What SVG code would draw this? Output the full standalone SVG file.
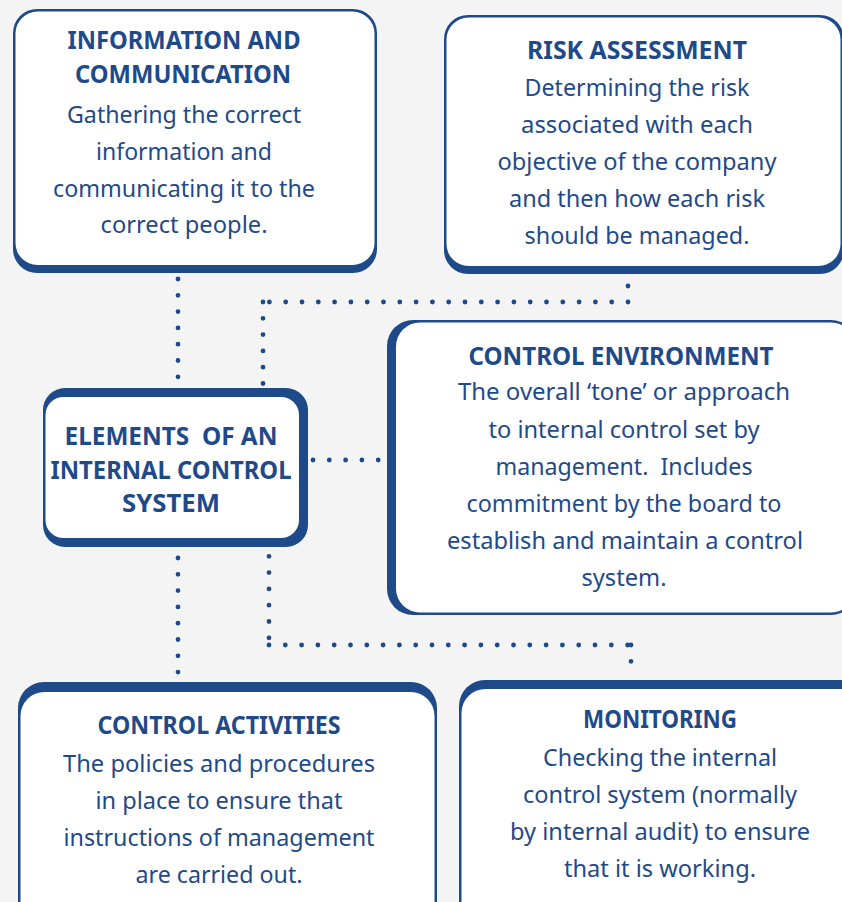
<svg xmlns="http://www.w3.org/2000/svg" width="842" height="902" viewBox="0 0 842 902">
<style>
.bg{fill:#f4f4f4}
.edge{fill:#1f4a8a}
.face{fill:#ffffff}
.t{font-family:"Noto Sans","Open Sans",sans-serif;fill:#1f4a8a;text-anchor:middle}
.h{font-weight:bold;font-size:25px}
.b{font-size:23px}
.dots{fill:none;stroke:#1f4a8a;stroke-width:4.8;stroke-linecap:round;stroke-dasharray:0 16.3}
</style>
<rect class="bg" x="0" y="0" width="842" height="902"/>

<g id="connectors">
  <line class="dots" x1="178" y1="279" x2="178" y2="380"/>
  <line class="dots" x1="628" y1="286" x2="628" y2="302"/>
  <line class="dots" x1="628" y1="302" x2="263" y2="302"/>
  <line class="dots" x1="263" y1="302" x2="263" y2="390"/>
  <line class="dots" x1="313" y1="460" x2="380" y2="460"/>
  <line class="dots" x1="178" y1="558" x2="178" y2="676"/>
  <line class="dots" x1="269" y1="540" x2="269" y2="645"/>
  <line class="dots" x1="269" y1="645" x2="631" y2="645"/>
  <line class="dots" x1="631" y1="645" x2="631" y2="677"/>
</g>

<g id="info">
  <rect class="edge" x="13" y="9" width="364" height="264" rx="24"/>
  <rect class="face" x="15.5" y="11.5" width="359" height="253.5" rx="22"/>
  <text class="t h" x="184" y="49" textLength="233" lengthAdjust="spacingAndGlyphs">INFORMATION AND</text>
  <text class="t h" x="183" y="83" textLength="216" lengthAdjust="spacingAndGlyphs">COMMUNICATION</text>
  <text class="t b" x="184" y="123" textLength="234" lengthAdjust="spacingAndGlyphs">Gathering the correct</text>
  <text class="t b" x="184" y="160" textLength="176" lengthAdjust="spacingAndGlyphs">information and</text>
  <text class="t b" x="184" y="197" textLength="262" lengthAdjust="spacingAndGlyphs">communicating it to the</text>
  <text class="t b" x="184" y="233" textLength="167" lengthAdjust="spacingAndGlyphs">correct people.</text>
</g>

<g id="risk">
  <rect class="edge" x="444" y="15" width="400" height="259" rx="24"/>
  <rect class="face" x="446.5" y="17.5" width="394" height="248.5" rx="22"/>
  <text class="t h" x="637" y="59" textLength="220" lengthAdjust="spacingAndGlyphs">RISK ASSESSMENT</text>
  <text class="t b" x="637" y="96" textLength="225" lengthAdjust="spacingAndGlyphs">Determining the risk</text>
  <text class="t b" x="637" y="133" textLength="232" lengthAdjust="spacingAndGlyphs">associated with each</text>
  <text class="t b" x="637" y="170" textLength="279" lengthAdjust="spacingAndGlyphs">objective of the company</text>
  <text class="t b" x="637" y="207" textLength="256" lengthAdjust="spacingAndGlyphs">and then how each risk</text>
  <text class="t b" x="637" y="244" textLength="225" lengthAdjust="spacingAndGlyphs">should be managed.</text>
</g>

<g id="elements">
  <rect class="edge" x="43" y="388" width="265" height="159" rx="22"/>
  <rect class="face" x="45.5" y="397" width="253.5" height="141" rx="18"/>
  <text class="t h" x="171" y="445" textLength="213" lengthAdjust="spacingAndGlyphs" xml:space="preserve">ELEMENTS  OF AN</text>
  <text class="t h" x="171" y="479" textLength="241" lengthAdjust="spacingAndGlyphs">INTERNAL CONTROL</text>
  <text class="t h" x="171" y="512" textLength="98" lengthAdjust="spacingAndGlyphs">SYSTEM</text>
</g>

<g id="environment">
  <rect class="edge" x="387" y="320" width="470" height="295" rx="26"/>
  <rect class="face" x="396" y="322.5" width="459" height="290" rx="24"/>
  <text class="t h" x="621" y="365" textLength="305" lengthAdjust="spacingAndGlyphs">CONTROL ENVIRONMENT</text>
  <text class="t b" x="624" y="400" textLength="332" lengthAdjust="spacingAndGlyphs">The overall ‘tone’ or approach</text>
  <text class="t b" x="624" y="438" textLength="271" lengthAdjust="spacingAndGlyphs">to internal control set by</text>
  <text class="t b" x="624" y="475" textLength="257" lengthAdjust="spacingAndGlyphs" xml:space="preserve">management.  Includes</text>
  <text class="t b" x="624" y="512" textLength="315" lengthAdjust="spacingAndGlyphs">commitment by the board to</text>
  <text class="t b" x="625" y="549" textLength="356" lengthAdjust="spacingAndGlyphs">establish and maintain a control</text>
  <text class="t b" x="624" y="586" textLength="85" lengthAdjust="spacingAndGlyphs">system.</text>
</g>

<g id="activities">
  <rect class="edge" x="18" y="682" width="419" height="250" rx="26"/>
  <rect class="face" x="20.5" y="692" width="414" height="240" rx="24"/>
  <text class="t h" x="219" y="734" textLength="243" lengthAdjust="spacingAndGlyphs">CONTROL ACTIVITIES</text>
  <text class="t b" x="219" y="772" textLength="312" lengthAdjust="spacingAndGlyphs">The policies and procedures</text>
  <text class="t b" x="219" y="809" textLength="247" lengthAdjust="spacingAndGlyphs">in place to ensure that</text>
  <text class="t b" x="219" y="846" textLength="311" lengthAdjust="spacingAndGlyphs">instructions of management</text>
  <text class="t b" x="219" y="883" textLength="167" lengthAdjust="spacingAndGlyphs">are carried out.</text>
</g>

<g id="monitoring">
  <rect class="edge" x="459" y="680" width="420" height="250" rx="26"/>
  <rect class="face" x="461.5" y="689" width="415" height="240" rx="24"/>
  <text class="t h" x="660" y="728" textLength="154" lengthAdjust="spacingAndGlyphs">MONITORING</text>
  <text class="t b" x="660" y="766" textLength="234" lengthAdjust="spacingAndGlyphs">Checking the internal</text>
  <text class="t b" x="660" y="803" textLength="274" lengthAdjust="spacingAndGlyphs">control system (normally</text>
  <text class="t b" x="660" y="840" textLength="300" lengthAdjust="spacingAndGlyphs">by internal audit) to ensure</text>
  <text class="t b" x="660" y="877" textLength="192" lengthAdjust="spacingAndGlyphs">that it is working.</text>
</g>
</svg>
